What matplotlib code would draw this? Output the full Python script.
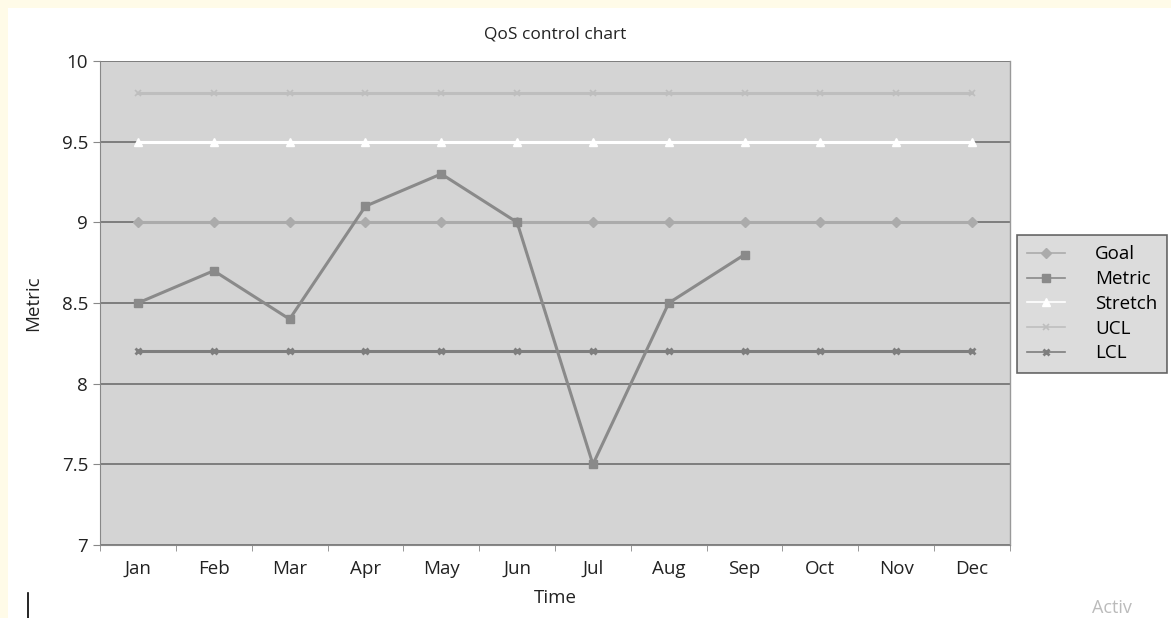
import matplotlib
matplotlib.use("Agg")
import matplotlib.pyplot as plt
from matplotlib.patches import Rectangle

plt.rcParams['font.family'] = ['Open Sans', 'DejaVu Sans']

months = ["Jan", "Feb", "Mar", "Apr", "May", "Jun", "Jul", "Aug", "Sep", "Oct", "Nov", "Dec"]
goal = [9.0] * 12
metric = [8.5, 8.7, 8.4, 9.1, 9.3, 9.0, 7.5, 8.5, 8.8]
stretch = [9.5] * 12
ucl = [9.8] * 12
lcl = [8.2] * 12

fig = plt.figure(figsize=(11.71, 6.18), dpi=100)
fig.patch.set_facecolor("#fffbe8")
# white page area inside the cream border
fig.patches.append(Rectangle((8 / 1171, 0), 1, 1 - 8 / 618, transform=fig.transFigure,
                             facecolor="white", edgecolor="none", zorder=-10))

ax = fig.add_axes([100 / 1171, 1 - 545 / 618, 910 / 1171, 484 / 618])
ax.set_facecolor("#d4d4d4")

x = list(range(12))
ax.plot(x, goal, color="#ababab", lw=2.2, marker="D", ms=5, label="Goal", zorder=3)
ax.plot(x[:len(metric)], metric, color="#8a8a8a", lw=2.2, marker="s", ms=6, label="Metric", zorder=5)
ax.plot(x, stretch, color="white", lw=2.2, marker="^", ms=6, label="Stretch", zorder=3)
ax.plot(x, ucl, color="#bebebe", lw=2.2, marker="x", ms=5, mew=1.2, label="UCL", zorder=3)
ax.plot(x, lcl, color="#7e7e7e", lw=2.2, marker="x", ms=5, mew=2, label="LCL", zorder=3)

ax.set_xlim(-0.5, 11.5)
ax.set_ylim(7, 10)
ax.set_yticks([7, 7.5, 8, 8.5, 9, 9.5, 10])
ax.set_yticklabels(["7", "7.5", "8", "8.5", "9", "9.5", "10"])
ax.set_xticks(x)
ax.set_xticklabels(months)
ax.set_xticks([i - 0.5 for i in range(13)], minor=True)
ax.tick_params(axis="x", which="major", length=0, pad=11, labelsize=13.5, colors="#222222")
ax.tick_params(axis="x", which="minor", length=4, color="#888888")
ax.tick_params(axis="y", length=5, color="#888888", labelsize=13.5, colors="#222222")
ax.grid(axis="y", color="#6e6e6e", lw=1.2, zorder=1)
ax.set_axisbelow(True)
for s in ["top", "right"]:
    ax.spines[s].set_visible(False)
ax.spines["left"].set_color("#888888")
ax.spines["bottom"].set_color("#888888")
ax.plot([11.5, 11.5], [7, 10], color="#999999", lw=1, zorder=2, clip_on=False)

ax.set_title("QoS control chart", fontsize=12.5, pad=16, color="#222222")
ax.set_xlabel("Time", fontsize=13.5, labelpad=8, color="#222222")
ax.set_ylabel("Metric", fontsize=13.5, labelpad=14, color="#222222")

leg = fig.legend(loc="upper left", bbox_to_anchor=(1017 / 1171, 1 - 235 / 618),
                 frameon=True, fancybox=False, fontsize=13.5, handlelength=2.0,
                 labelspacing=0.36, borderpad=0.55, handletextpad=1.6, borderaxespad=0)
leg.get_frame().set_facecolor("#d4d4d4")
leg.get_frame().set_edgecolor("#444444")
leg.get_frame().set_linewidth(1.2)
for h in leg.get_lines():
    h.set_linewidth(1.2)

fig.text(1092 / 1171, 1 - 608 / 618, "Activ", fontsize=13, color="#bbbbbb", ha="left", va="center")
fig.add_artist(plt.Line2D([28 / 1171, 28 / 1171], [0, 25 / 618], color="black", lw=1.2))

fig.savefig("out.png", dpi=100, facecolor=fig.get_facecolor())
